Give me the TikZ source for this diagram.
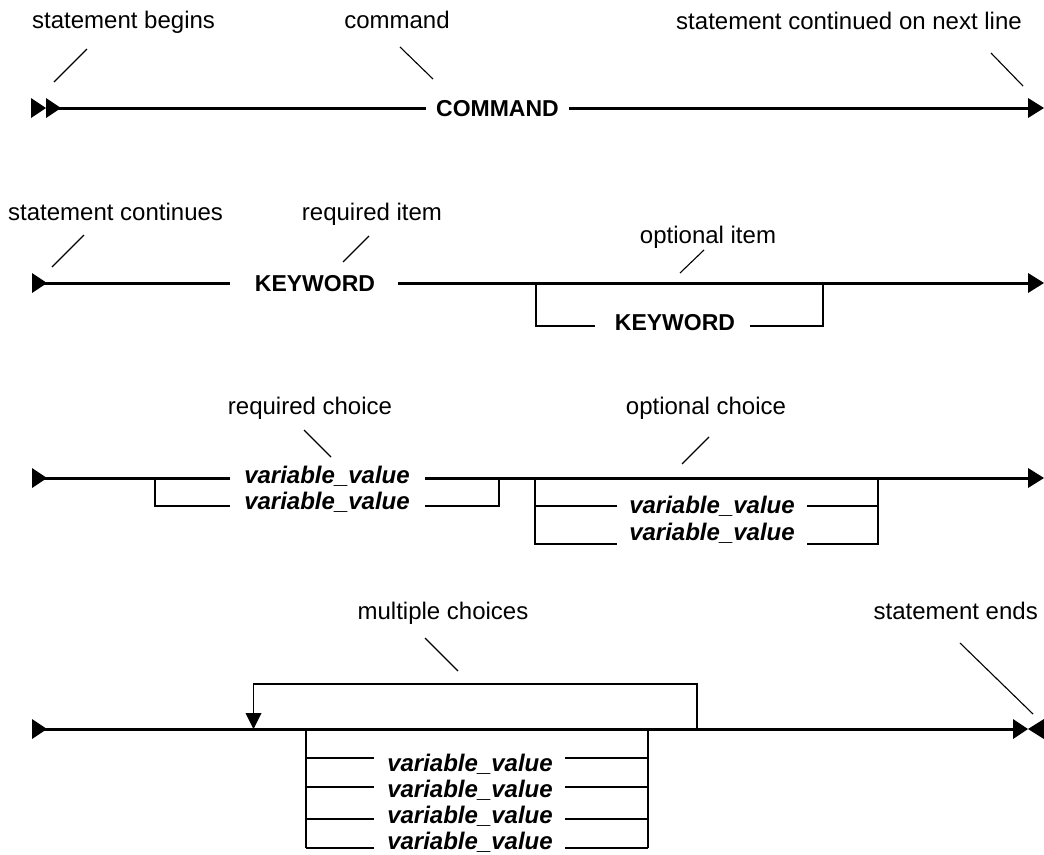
\documentclass[tikz,border=0pt]{standalone}
\usepackage{fontspec}
\setmainfont{Liberation Sans}
\tikzset{
  mainline/.style={line width=3pt},
  branchline/.style={line width=1.8pt},
  leaderline/.style={line width=1.1pt},
  lbl/.style={font=\fontsize{24}{28}\selectfont, inner sep=0pt, anchor=base},
  kw/.style={font=\fontsize{23}{28}\selectfont\bfseries, inner sep=0pt, anchor=base},
  varv/.style={font=\fontsize{24}{28}\selectfont\bfseries\itshape, inner sep=0pt, anchor=base},
  rtri/.pic={\fill (0,-10) -- (15,0) -- (0,10) -- cycle;},
  endtri/.pic={\fill (0,-10) -- (16,0) -- (0,10) -- cycle;},
  ltri/.pic={\fill (0,-10) -- (-16,0) -- (0,10) -- cycle;},
  dtri/.pic={\fill (-8,-16) -- (8,-16) -- (0,0) -- cycle;}
}
\begin{document}
\begin{tikzpicture}[x=1pt,y=-1pt]
\useasboundingbox (0,0) rectangle (1044,854);

% ---------------- Row 1 ----------------
\pic at (31,108) {rtri};
\pic at (46,108) {rtri};
\coordinate (r1s) at (58,108);
\coordinate (r1a) at (426,108);
\coordinate (r1b) at (569,108);
\coordinate (r1e) at (1030,108);
\node[kw] (cmd) at (497.5,116) {COMMAND};
\draw[mainline] (r1s) -- (r1a);
\draw[mainline] (r1b) -- (r1e);
\pic at (1028,108) {endtri};

\node[lbl, anchor=base west] (lb1) at (32,28) {statement begins};
\coordinate (ld1a) at (54,82); \coordinate (ld1b) at (87,49);
\draw[leaderline] (ld1a) -- (ld1b);
\node[lbl] (lb2) at (397,28) {command};
\coordinate (ld2a) at (400,47); \coordinate (ld2b) at (433,79);
\draw[leaderline] (ld2a) -- (ld2b);
\node[lbl, anchor=base east] (lb3) at (1022,29) {statement continued on next line};
\coordinate (ld3a) at (991,53); \coordinate (ld3b) at (1023,86);
\draw[leaderline] (ld3a) -- (ld3b);

% ---------------- Row 2 ----------------
\pic at (32,283) {rtri};
\coordinate (r2s) at (44,283);
\coordinate (r2a) at (230,283);
\coordinate (r2b) at (398,283);
\coordinate (r2e) at (1030,283);
\node[kw] (kw1) at (315,291) {KEYWORD};
\draw[mainline] (r2s) -- (r2a);
\draw[mainline] (r2b) -- (r2e);
\pic at (1028,283) {endtri};
\coordinate (o2l) at (536,283);
\coordinate (o2r) at (823,283);
\coordinate (o2a) at (595,326);
\coordinate (o2b) at (750,326);
\node[kw] (kw2) at (675,330) {KEYWORD};
\draw[branchline] (o2l) |- (o2a);
\draw[branchline] (o2b) -| (o2r);

\node[lbl, anchor=base west] (lb4) at (8,220) {statement continues};
\coordinate (ld4a) at (52,267); \coordinate (ld4b) at (84,235);
\draw[leaderline] (ld4a) -- (ld4b);
\node[lbl] (lb5) at (372,220) {required item};
\coordinate (ld5a) at (343,262); \coordinate (ld5b) at (369,236);
\draw[leaderline] (ld5a) -- (ld5b);
\node[lbl] (lb6) at (708,243) {optional item};
\coordinate (ld6a) at (680,273); \coordinate (ld6b) at (704,250);
\draw[leaderline] (ld6a) -- (ld6b);

% ---------------- Row 3 ----------------
\pic at (32,478) {rtri};
\coordinate (r3s) at (44,478);
\coordinate (r3a) at (230,478);
\coordinate (r3b) at (425,478);
\coordinate (r3e) at (1030,478);
\node[varv] (v1) at (327,483) {variable\_value};
\draw[mainline] (r3s) -- (r3a);
\draw[mainline] (r3b) -- (r3e);
\pic at (1028,478) {endtri};
% required lower branch
\coordinate (q3l) at (155,478);
\coordinate (q3a) at (230,506);
\coordinate (q3b) at (425,506);
\coordinate (q3r) at (499,478);
\node[varv] (v2) at (327,509) {variable\_value};
\draw[branchline] (q3l) |- (q3a);
\draw[branchline] (q3b) -| (q3r);
% optional choice
\coordinate (p3l) at (535,478);
\coordinate (p3r) at (878,478);
\coordinate (p3a) at (617,506);
\coordinate (p3b) at (807,506);
\coordinate (p3c) at (617,544);
\coordinate (p3d) at (807,544);
\node[varv] (v3) at (712,513) {variable\_value};
\node[varv] (v4) at (712,540) {variable\_value};
\draw[branchline] (p3l) |- (p3c);
\draw[branchline] (p3d) -| (p3r);
\draw[branchline] (p3a) -- (p3a -| p3l);
\draw[branchline] (p3b) -- (p3b -| p3r);

\node[lbl] (lb7) at (310,414) {required choice};
\coordinate (ld7a) at (304,430); \coordinate (ld7b) at (331,457);
\draw[leaderline] (ld7a) -- (ld7b);
\node[lbl] (lb8) at (706,414) {optional choice};
\coordinate (ld8a) at (682,464); \coordinate (ld8b) at (709,437);
\draw[leaderline] (ld8a) -- (ld8b);

% ---------------- Row 4 ----------------
\pic at (32,729) {rtri};
\coordinate (r4s) at (44,729);
\coordinate (r4e) at (1016,729);
\draw[mainline] (r4s) -- (r4e);
\pic at (1013,729) {rtri};
\pic at (1044,729) {ltri};
% repeat loop
\coordinate (lpr) at (697,729);
\coordinate (lpl) at (253.5,713);
\draw[branchline] (lpr) -- (697,684) -- (253.5,684) -- (lpl);
\pic at (253.5,729) {dtri};
% choice box
\coordinate (bl) at (306,729);
\coordinate (br) at (648,729);
\coordinate (blb) at (306,848);
\coordinate (brb) at (648,848);
\draw[branchline] (bl) -- (blb);
\draw[branchline] (br) -- (brb);
\foreach \yy [count=\i] in {758,787,819,848}{
  \coordinate (ba\i) at (374,\yy);
  \coordinate (bb\i) at (565,\yy);
  \draw[branchline] (ba\i) -- (ba\i -| bl);
  \draw[branchline] (bb\i) -- (bb\i -| br);
}
\node[varv] (w1) at (470,771) {variable\_value};
\node[varv] (w2) at (470,797) {variable\_value};
\node[varv] (w3) at (470,823) {variable\_value};
\node[varv] (w4) at (470,849) {variable\_value};

\node[lbl] (lb9) at (443,619) {multiple choices};
\coordinate (ld9a) at (425,638); \coordinate (ld9b) at (458,671);
\draw[leaderline] (ld9a) -- (ld9b);
\node[lbl, anchor=base east] (lb10) at (1038,619) {statement ends};
\coordinate (ld10a) at (960,643); \coordinate (ld10b) at (1033,714);
\draw[leaderline] (ld10a) -- (ld10b);
\end{tikzpicture}
\end{document}
